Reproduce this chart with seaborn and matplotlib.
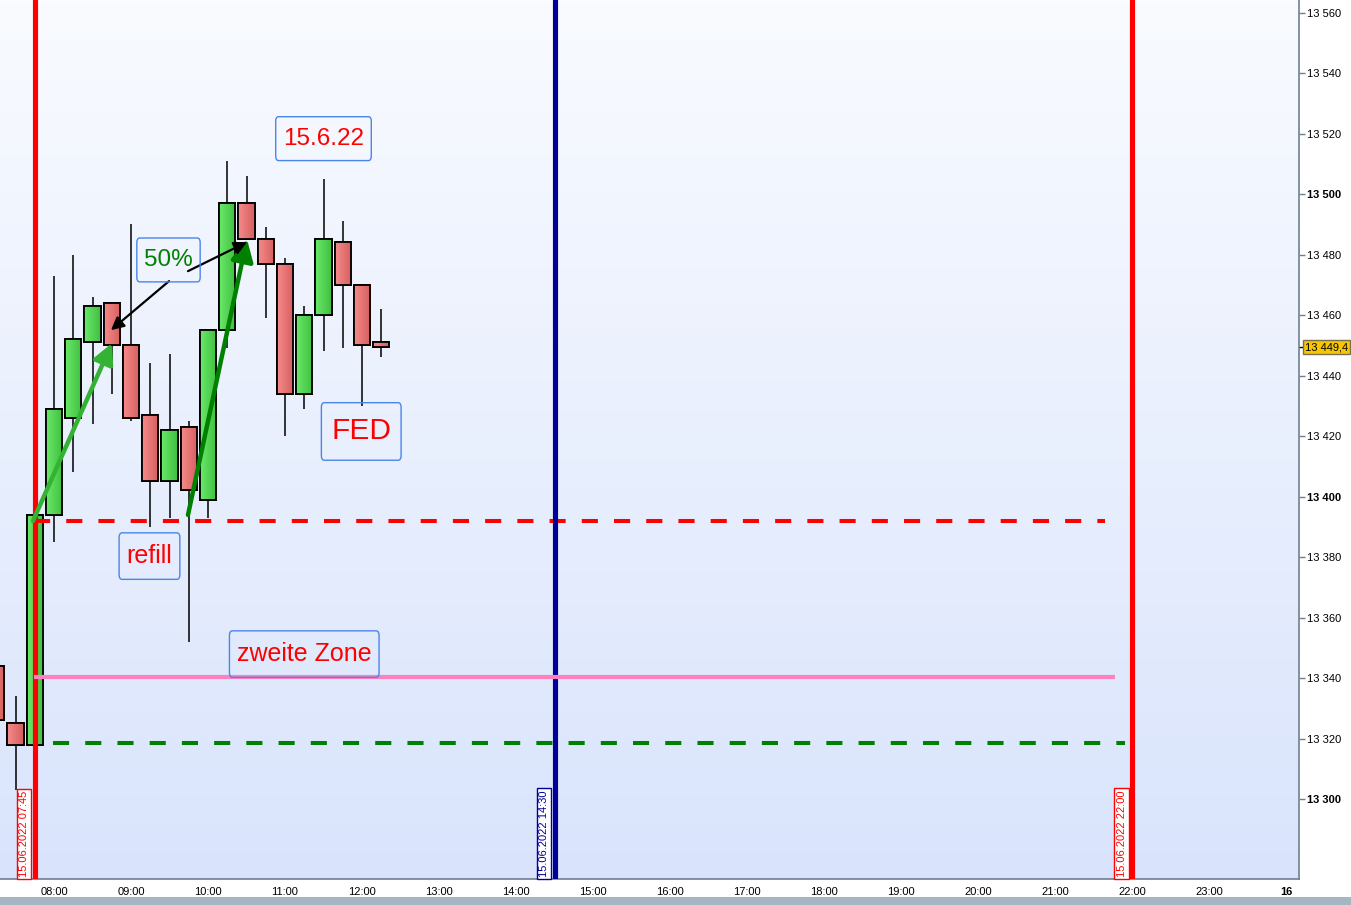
import numpy as np
import pandas as pd
import seaborn as sns
import matplotlib
matplotlib.use("Agg")
import matplotlib.pyplot as plt
import matplotlib.transforms as mtransforms
from matplotlib.colors import LinearSegmentedColormap
from matplotlib.patches import Rectangle

sns.set_style("white")
plt.rcParams['font.family'] = ['Liberation Sans', 'DejaVu Sans']

# ----------------------------------------------------------
# 15 minute candles, 15.06.2022 (time in hours)
# ----------------------------------------------------------
times = [7.25, 7.5, 7.75, 8.0, 8.25, 8.5, 8.75, 9.0, 9.25, 9.5, 9.75, 10.0,
         10.25, 10.5, 10.75, 11.0, 11.25, 11.5, 11.75, 12.0, 12.25]
opens = [13344, 13325, 13318, 13394, 13426, 13451, 13464, 13450, 13427, 13405, 13423, 13399,
         13455, 13497, 13485, 13477, 13434, 13460, 13484, 13470, 13451]
highs = [13345, 13334, 13394, 13473, 13480, 13466, 13464, 13490, 13444, 13447, 13425, 13455,
         13511, 13506, 13489, 13479, 13463, 13505, 13491, 13470, 13462]
lows = [13324, 13303, 13317, 13385, 13408, 13424, 13434, 13425, 13390, 13393, 13352, 13393,
        13449, 13485, 13459, 13420, 13429, 13448, 13449, 13430, 13446]
closes = [13326, 13318, 13394, 13429, 13452, 13463, 13450, 13426, 13405, 13422, 13402, 13455,
          13497, 13485, 13477, 13434, 13460, 13485, 13470, 13450, 13449.4]
last_price = 13449.4

# horizontal levels
refill_level = 13392
zone2_level = 13340.3
low_level = 13318.5

# vertical session lines
vline_times = [7.75, 14.5, 22.0]
vline_labels = ["15.06.2022 07:45", "15.06.2022 14:30", "15.06.2022 22:00"]
vline_colors = ["#ff0000", "#000099", "#ff0000"]

y_ticks = list(range(13300, 13561, 20))
x_ticks = list(range(8, 25))
x_labels = ["%02d:00" % h for h in range(8, 24)] + ["16"]

candles = pd.DataFrame({"t": times, "o": opens, "h": highs, "l": lows, "c": closes})
candles["up"] = candles["c"] >= candles["o"]

fig = plt.figure(figsize=(13.51, 9.05), dpi=100)
ax = fig.add_axes([0, 26 / 905, 1299 / 1351, 879 / 905])
xlim = (8 - 54 / 77, 8 + 1245 / 77)
ylim = (13500 - 685 / 3.025, 13500 + 194 / 3.025)
ax.set_xlim(xlim)
ax.set_ylim(ylim)

# gradient background
bg = LinearSegmentedColormap.from_list("bg", ["#f9fbff", "#d9e4fc"])
ax.imshow(np.linspace(0, 1, 256).reshape(-1, 1), cmap=bg, aspect="auto",
          extent=[xlim[0], xlim[1], ylim[0], ylim[1]], zorder=0)

# grey strip at bottom of window
fig.patches.append(Rectangle((0, 0), 1, 8 / 905, transform=fig.transFigure,
                             facecolor="#a3b6c2", edgecolor="none"))

# wicks
ax.vlines(candles["t"], candles["l"], candles["h"], color="black", lw=1.1, zorder=2)

# bodies with a small left-right shading
green_cm = LinearSegmentedColormap.from_list("g", ["#6ae86a", "#3fbf3f"])
red_cm = LinearSegmentedColormap.from_list("r", ["#f58b8b", "#d65e5e"])
bottoms = candles[["o", "c"]].min(axis=1)
heights = (candles["c"] - candles["o"]).abs().clip(lower=1.2)
bars = ax.bar(candles["t"], heights, bottom=bottoms, width=0.208,
              color=np.where(candles["up"], "#55d655", "#ec7474"),
              edgecolor="black", linewidth=1.3, zorder=3)
shade = np.linspace(0, 1, 32).reshape(1, -1)
for patch, up in zip(bars.patches, candles["up"]):
    x0, y0 = patch.get_x(), patch.get_y()
    im = ax.imshow(shade, cmap=green_cm if up else red_cm, aspect="auto",
                   extent=[x0, x0 + patch.get_width(), y0, y0 + patch.get_height()],
                   zorder=3.1)
    im.set_clip_path(patch)
    outline = Rectangle((x0, y0), patch.get_width(), patch.get_height(),
                        fill=False, edgecolor="black", linewidth=1.3, zorder=3.2)
    ax.add_patch(outline)
ax.set_xlim(xlim)
ax.set_ylim(ylim)

# level lines
ax.hlines(refill_level, 7.74, 21.65, colors="#ff0000", lw=2.9,
          linestyles=(0, (4, 4)), zorder=4)
ax.hlines(low_level, 7.99, 21.91, colors="#008000", lw=2.9,
          linestyles=(0, (4, 4)), zorder=4)

# session lines with their labels
label_trans = mtransforms.offset_copy(
    mtransforms.blended_transform_factory(ax.transData, ax.transAxes),
    fig=fig, x=-5.5, y=2, units="dots")
for t, lab, col in zip(vline_times, vline_labels, vline_colors):
    ax.axvline(t, color=col, lw=3.7, zorder=4.5)
    ax.text(t, 0, lab, transform=label_trans, rotation=90, ha="right", va="bottom",
            fontsize=8, color=col, zorder=6,
            bbox=dict(boxstyle="square,pad=0.2", fc="white", ec=col, lw=1))

ax.hlines(zone2_level, 7.74, 21.78, colors="#ff80c0", lw=3, zorder=5)

# arrows
arrow_specs = [
    ((7.727, 13391.9), (8.753, 13450.7), "#33b233", 3.2, 22),
    ((9.74, 13393.9), (10.506, 13485.1), "#008000", 3.2, 24),
    ((9.494, 13471.2), (8.74, 13455.0), "black", 1.6, 14),
    ((9.74, 13474.5), (10.506, 13484.1), "black", 1.6, 14),
]
for start, tip, col, lw, ms in arrow_specs:
    ax.annotate("", xy=tip, xytext=start, zorder=7,
                arrowprops=dict(arrowstyle="-|>,head_length=0.55,head_width=0.28",
                                color=col, lw=lw, mutation_scale=ms,
                                shrinkA=0, shrinkB=0))

# text boxes
box = dict(boxstyle="round,pad=0.3,rounding_size=0.12", fc="none", ec="#4a86e8",
           lw=1, mutation_aspect=1.5)
ax.text(11.5, 13518.3, "15.6.22", color="#ff0000", fontsize=17.5, ha="center", va="center", bbox=box, zorder=8)
ax.text(9.487, 13478.2, "50%", color="#008000", fontsize=17.5, ha="center", va="center", bbox=box, zorder=8)
ax.text(11.99, 13421.5, "FED", color="#ff0000", fontsize=21.5, ha="center", va="center",
        bbox=dict(box, boxstyle="round,pad=0.33,rounding_size=0.1"), zorder=8)
ax.text(9.24, 13380.3, "refill", color="#ff0000", fontsize=18, ha="center", va="center", bbox=box, zorder=8)
ax.text(11.25, 13347.9, "zweite Zone", color="#ff0000", fontsize=18, ha="center", va="center", bbox=box, zorder=8)

# axes, ticks
for side in ["top", "left"]:
    ax.spines[side].set_visible(False)
for side in ["right", "bottom"]:
    ax.spines[side].set_color("#6f8090")
    ax.spines[side].set_linewidth(1.2)

ax.yaxis.tick_right()
ax.set_yticks(y_ticks)
ax.set_yticklabels(["%d %03d" % (v // 1000, v % 1000) for v in y_ticks])
for v, lab in zip(y_ticks, ax.get_yticklabels()):
    if v % 100 == 0:
        lab.set_fontweight("bold")
        lab.set_fontsize(8.5)
ax.tick_params(axis="y", direction="out", length=4, width=1, color="#6f8090",
               labelsize=8, pad=2, labelcolor="black")

ax.set_xticks(x_ticks)
ax.set_xticklabels(x_labels)
ax.get_xticklabels()[-1].set_fontweight("bold")
ax.get_xticklabels()[-1].set_fontsize(9.5)
ax.tick_params(axis="x", direction="out", length=4, width=1, color="#6f8090",
               labelsize=8, pad=2, labelcolor="black")
ax.grid(False)

# current price marker
price_trans = mtransforms.offset_copy(
    mtransforms.blended_transform_factory(ax.transAxes, ax.transData),
    fig=fig, x=6, y=0, units="dots")
ax.text(1.0, last_price, "13 449,4", transform=price_trans, ha="left", va="center",
        fontsize=8, color="black", clip_on=False, zorder=9,
        bbox=dict(boxstyle="square,pad=0.2", fc="#f7c600", ec="#7a7050", lw=1))
ax.plot([1.0, 1.0 + 4 / 1299], [last_price, last_price], color="black", lw=1,
        transform=mtransforms.blended_transform_factory(ax.transAxes, ax.transData),
        clip_on=False)

fig.savefig("out.png", dpi=100)
